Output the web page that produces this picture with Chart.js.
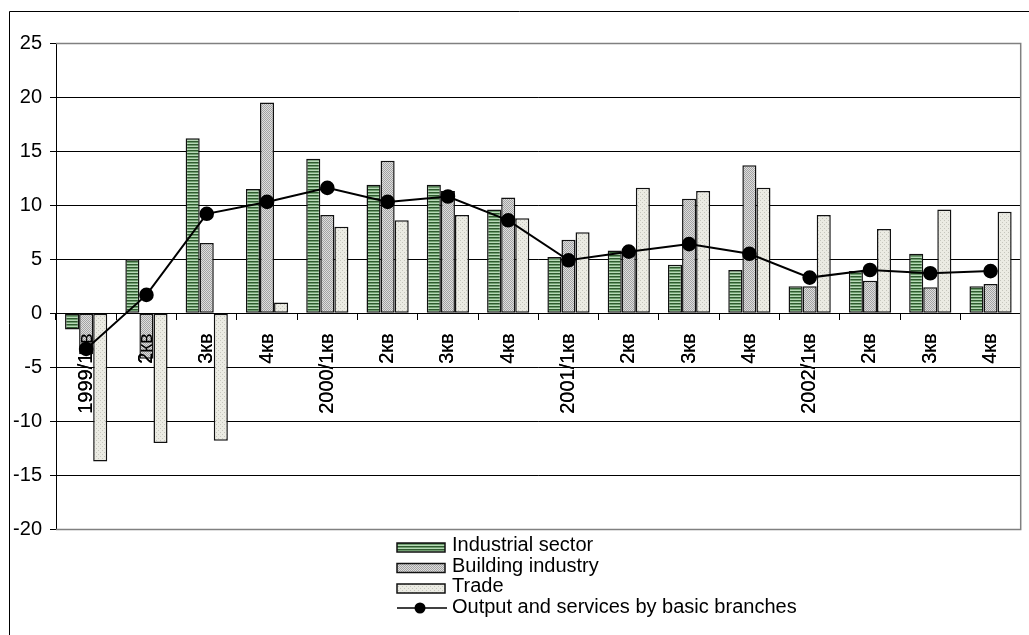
<!DOCTYPE html>
<html>
<head>
<meta charset="utf-8">
<script src="https://cdn.jsdelivr.net/npm/chart.js@4.4.0/dist/chart.umd.min.js"></script>
<style>
html, body { margin: 0; padding: 0; background: #fff; }
#wrap { width: 1029px; height: 635px; position: relative; }
</style>
</head>
<body>
<div id="wrap"><canvas id="chart" width="1029" height="635"></canvas></div>
<script>
// quarters, growth in % to the same quarter of previous year
var quarters = ['1999/1кв', '2кв', '3кв', '4кв', '2000/1кв', '2кв', '3кв', '4кв',
                '2001/1кв', '2кв', '3кв', '4кв', '2002/1кв', '2кв', '3кв', '4кв'];
var industrial = [-1.5, 5.0, 16.2, 11.5, 14.3, 11.9, 11.9, 9.6, 5.2, 5.8, 4.5, 4.0, 2.5, 3.9, 5.5, 2.5];
var building   = [-3.8, -4.2, 6.5, 19.5, 9.1, 14.1, 11.3, 10.7, 6.8, 5.6, 10.6, 13.7, 2.5, 3.0, 2.4, 2.7];
var trade      = [-13.7, -12.0, -11.8, 1.0, 8.0, 8.6, 9.1, 8.8, 7.5, 11.6, 11.3, 11.6, 9.1, 7.8, 9.6, 9.4];
var output     = [-3.3, 1.7, 9.2, 10.3, 11.6, 10.3, 10.8, 8.6, 4.9, 5.7, 6.4, 5.5, 3.3, 4.0, 3.7, 3.9];
var seriesNames = ['Industrial sector', 'Building industry', 'Trade', 'Output and services by basic branches'];
var yMin = -20, yMax = 25, yStep = 5;

var FONT = 'Liberation Sans, Arial, sans-serif';

// small tiles for bar fills
function makePattern(w, h, paint) {
    var c = document.createElement('canvas');
    c.width = w; c.height = h;
    var g = c.getContext('2d');
    paint(g);
    return document.getElementById('chart').getContext('2d').createPattern(c, 'repeat');
}
var stripes = makePattern(4, 3, function (g) {//horizontal green stripes
    g.fillStyle = '#2f5a2f'; g.fillRect(0, 0, 4, 1);
    g.fillStyle = '#6e9e6e'; g.fillRect(0, 1, 4, 1);
    g.fillStyle = '#b7d9b7'; g.fillRect(0, 2, 4, 1);
});
var dither = makePattern(2, 2, function (g) {//grey checker
    g.fillStyle = '#dedede'; g.fillRect(0, 0, 2, 2);
    g.fillStyle = '#a2a2a2'; g.fillRect(0, 0, 1, 1); g.fillRect(1, 1, 1, 1);
});
var dots = makePattern(4, 4, function (g) {//light dotted fill
    g.fillStyle = '#ebebe3'; g.fillRect(0, 0, 4, 4);
    g.fillStyle = '#c6c6bd'; g.fillRect(0, 0, 1, 1); g.fillRect(2, 2, 1, 1);
});

// outer frame, plot border and legend
var decor = {
    id: 'decor',
    beforeDraw: function (chart) {
        var ctx = chart.ctx;
        ctx.save();
        ctx.fillStyle = '#fff';
        ctx.fillRect(0, 0, chart.width, chart.height);
        ctx.restore();
    },
    // category labels go over the bars but under the line
    beforeDatasetDraw: function (chart, args) {
        if (args.index === 3) chart.scales.x.drawLabels(chart.chartArea);
    },
    afterDraw: function (chart) {
        var ctx = chart.ctx, a = chart.chartArea;
        ctx.save();
        // plot area border (top, right, bottom)
        ctx.strokeStyle = '#808080';
        ctx.lineWidth = 1.5;
        ctx.beginPath();
        ctx.moveTo(a.left, a.top + 0.5);
        ctx.lineTo(a.right, a.top + 0.5);
        ctx.lineTo(a.right, a.bottom);
        ctx.lineTo(a.left, a.bottom);
        ctx.stroke();
        // outer frame
        ctx.strokeStyle = '#000';
        ctx.lineWidth = 1;
        ctx.beginPath();
        ctx.moveTo(9.5, chart.height);
        ctx.lineTo(9.5, 11.5);
        ctx.lineTo(chart.width, 11.5);
        ctx.stroke();

        // legend
        var x0 = 397, x1 = 445, tx = 452;
        var base = [551, 571.5, 592, 612.5];
        var fills = [stripes, dither, dots];
        ctx.font = '20px ' + FONT;
        ctx.textBaseline = 'alphabetic';
        ctx.fillStyle = '#000';
        for (var i = 0; i < 3; i++) {
            ctx.fillStyle = fills[i];
            ctx.fillRect(x0, base[i] - 8, x1 - x0, 9);
            ctx.strokeStyle = '#111';
            ctx.lineWidth = 1.5;
            ctx.strokeRect(x0, base[i] - 8, x1 - x0, 9);
            ctx.fillStyle = '#000';
            ctx.fillText(seriesNames[i], tx, base[i]);
        }
        var ly = base[3] - 4.5;
        ctx.strokeStyle = '#000';
        ctx.lineWidth = 1.5;
        ctx.beginPath();
        ctx.moveTo(x0, ly);
        ctx.lineTo(x1 + 2, ly);
        ctx.stroke();
        ctx.beginPath();
        ctx.arc(420, ly, 5.5, 0, Math.PI * 2);
        ctx.fill();
        ctx.fillText(seriesNames[3], tx, base[3]);
        ctx.restore();
    }
};

var barStyle = {
    borderColor: '#111',
    borderWidth: 1.5,
    borderSkipped: false,
    categoryPercentage: 0.7,
    barPercentage: 1.0,
    order: 1
};

var tickFont = { family: FONT, size: 20 };

new Chart(document.getElementById('chart'), {
    type: 'bar',
    data: {
        labels: quarters,
        datasets: [
            Object.assign({ label: seriesNames[0], data: industrial, backgroundColor: stripes }, barStyle),
            Object.assign({ label: seriesNames[1], data: building, backgroundColor: dither }, barStyle),
            Object.assign({ label: seriesNames[2], data: trade, backgroundColor: dots }, barStyle),
            {
                type: 'line',
                label: seriesNames[3],
                data: output,
                borderColor: '#000',
                borderWidth: 2,
                pointRadius: 6.3,
                pointBackgroundColor: '#000',
                pointBorderColor: '#000',
                tension: 0,
                order: 0
            }
        ]
    },
    options: {
        responsive: false,
        animation: false,
        layout: { padding: { left: 0, right: 2, top: 43, bottom: 105.5 } },
        plugins: {
            legend: { display: false },
            tooltip: { enabled: false }
        },
        scales: {
            x: {
                position: { y: 0 },
                offset: true,
                grid: { drawOnChartArea: false, drawTicks: true, tickLength: 6, color: '#000', offset: true },
                border: { display: true, color: '#000', width: 1 },
                ticks: {
                    autoSkip: false, minRotation: 90, maxRotation: 90, padding: 14,
                    color: '#000', font: tickFont
                }
            },
            y: {
                min: yMin,
                max: yMax,
                ticks: { stepSize: yStep, padding: 8, color: '#000', font: tickFont },
                grid: { color: '#000', lineWidth: 1, tickLength: 6 },
                border: { color: '#000', width: 1 },
                afterFit: function (scale) { scale.width = 56; }
            }
        }
    },
    plugins: [decor]
});
</script>
</body>
</html>
